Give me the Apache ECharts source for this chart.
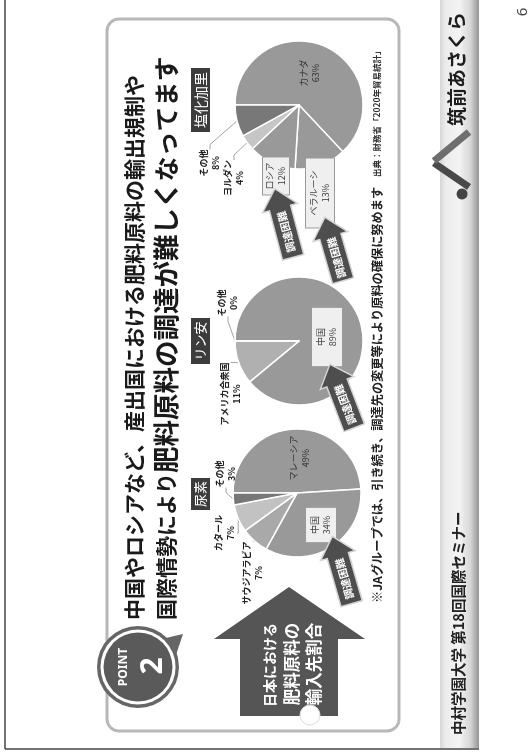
<!DOCTYPE html>
<html><head><meta charset="utf-8">
<script src="https://cdn.jsdelivr.net/npm/echarts/dist/echarts.min.js"></script>
<style>
html,body{margin:0;padding:0;width:532px;height:753px;overflow:hidden;background:#fff;}
#slide{position:absolute;left:0;top:0;width:753px;height:532px;transform-origin:0 0;transform:translate(0,753px) rotate(-90deg);}
</style></head><body><div id="slide"></div>
<script>
// ---- data ----
const pieTitles = ['尿素', 'リン安', '塩化加里'];
const ureaNames = ['マレーシア', '中国', 'サウジアラビア', 'カタール', 'その他'];
const ureaShares = [49, 34, 7, 7, 3];
const phosNames = ['中国', 'アメリカ合衆国', 'その他'];
const phosShares = [89, 11, 0];
const potashNames = ['カナダ', 'ベラルーシ', 'ロシア', 'ヨルダン', 'その他'];
const potashShares = [63, 13, 12, 4, 8];
const titleLine1 = '中国やロシアなど、産出国における肥料原料の輸出規制や';
const titleLine2a = '国際情勢により';
const titleLine2b = '肥料原料の調達が難しく';
const titleLine2c = 'なってます';
const arrowLines = ['日本における', '肥料原料の', '輸入先割合'];
const difficultyText = '調達困難';
const noteText = '※JAグループでは、引き続き、調達先の変更等により原料の確保に努めます';
const sourceText = '出典：財務省「2020年貿易統計」';
const footerText = '中村学園大学 第18回国際セミナー';
const logoText = '筑前あさくら';
const pageNo = '6';
const badgeWord = 'POINT';
const badgeNum = '2';

// ---- styles / layout ----
const CJK = '"Noto Sans CJK JP", "Noto Sans", sans-serif';
const MID = '#999999';
const ureaColors = [MID, MID, '#a9a9a9', '#c2c2c2', '#777777'];
const phosColors = [MID, '#b0b0b0', '#777777'];
const potashColors = [MID, MID, MID, '#c6c6c6', '#787878'];
const ureaKinds = ['in', 'box', 'line', 'line', 'line'];
const phosKinds = ['box', 'line', 'line'];
const potashKinds = ['in', 'boxout', 'boxout', 'line', 'line'];
const ureaPads = [0, [3, 8], 0, 0, 0];
const phosPads = [[3, 20], 0, 0];
const potashPads = [0, [2, 12], [1, 5], 0, 0];
const ureaSpots = [[295, 300], [228, 321], [180, 253], [220, 225], [279, 226]];
const phosSpots = [[416, 327], [359, 231], [450, 228]];
const potashSpots = [[680, 310], [560, 320], [577, 276], [575, 234], [590, 210]];

function buildPie(names, values, colors, kinds, pads, spots, center) {
  return {
    type: 'pie', center: center, radius: 64, startAngle: 90, clockwise: true,
    avoidLabelOverlap: false, silent: true, animation: false, z: 2,
    itemStyle: { borderColor: '#ffffff', borderWidth: 1.5 },
    label: { show: true, position: 'inside', formatter: '{b}\n{c}%', fontSize: 9, lineHeight: 12,
             color: '#333', fontFamily: CJK },
    labelLine: { show: false, length: 5, length2: 5, lineStyle: { color: '#8a8a8a', width: 0.8 } },
    labelLayout: function (p) {
      const s = spots[p.dataIndex];
      return s ? { x: s[0], y: s[1], align: 'center', verticalAlign: 'middle' } : {};
    },
    data: names.map(function (n, i) {
      const item = { name: n, value: values[i], itemStyle: { color: colors[i] } };
      const k = kinds[i];
      if (k === 'line') {
        item.label = { position: 'outside', fontWeight: 'bold', color: '#222' };
        item.labelLine = { show: true };
      } else if (k === 'boxout' || k === 'box') {
        item.label = { position: k === 'box' ? 'inside' : 'outside', backgroundColor: '#efefef',
                       borderColor: '#9a9a9a', borderWidth: 1, padding: pads[i], color: '#444' };
        item.labelLine = { show: false };
      }
      return item;
    })
  };
}

function difficultyArrow(cx, cy, deg, len) {
  const hl = 20, sw = 11, hw = 18;
  const x0 = -len / 2, x1 = len / 2 - hl, x2 = len / 2;
  return {
    type: 'group', x: cx, y: cy, rotation: deg * Math.PI / 180, z: 20,
    children: [
      { type: 'polygon', z: 20,
        shape: { points: [[x0, -sw], [x1, -sw], [x1, -hw], [x2, 0], [x1, hw], [x1, sw], [x0, sw]] },
        style: { fill: '#4e4e4e', stroke: '#d4d4d4', lineWidth: 1.5 } },
      { type: 'text', z: 21, x: (x0 + x1) / 2 + 1, y: 0,
        style: { text: difficultyText, fill: '#fff', fontSize: 10.5, fontWeight: 'bold',
                 fontFamily: CJK, align: 'center', verticalAlign: 'middle' } }
    ]
  };
}

function tag(x, w, label, fs) {
  return [
    { type: 'rect', z: 5, shape: { x: x, y: 191, width: w, height: 19 }, style: { fill: '#3c3c3c' } },
    { type: 'text', z: 6, x: x + w / 2, y: 200.5,
      style: { text: label, fill: '#fff', fontSize: fs, fontFamily: CJK, align: 'center', verticalAlign: 'middle' } }
  ];
}

const graphics = [
  // footer bar
  { type: 'rect', z: 0, shape: { x: 5, y: 440, width: 748, height: 39 },
    style: { fill: new echarts.graphic.LinearGradient(0, 0, 0, 1, [
      { offset: 0, color: '#d6d6d6' }, { offset: 0.15, color: '#ececec' }, { offset: 0.5, color: '#f3f3f3' },
      { offset: 0.78, color: '#d6d6d6' }, { offset: 1, color: '#959595' }]) } },
  // frame
  { type: 'line', z: 1, shape: { x1: 4, y1: 5, x2: 753, y2: 5 }, style: { stroke: '#444', lineWidth: 1.5 } },
  { type: 'line', z: 1, shape: { x1: 4, y1: 5, x2: 4, y2: 479 }, style: { stroke: '#444', lineWidth: 1.5 } },
  { type: 'text', z: 3, x: 18, y: 458,
    style: { text: footerText, fill: '#222', fontSize: 14.5, fontWeight: 'bold', fontFamily: CJK, verticalAlign: 'middle' } },
  // logo
  { type: 'polyline', z: 3, shape: { points: [[566, 469], [590, 434]] }, style: { stroke: '#4a4a4a', lineWidth: 7 } },
  { type: 'polyline', z: 3, shape: { points: [[592, 434], [621, 469]] }, style: { stroke: '#6e6e6e', lineWidth: 7 } },
  { type: 'circle', z: 3, shape: { cx: 559, cy: 462, r: 5.5 }, style: { fill: '#444' } },
  { type: 'text', z: 3, x: 627, y: 457,
    style: { text: logoText, fill: '#1e1e1e', fontSize: 19, fontWeight: 'bold', fontFamily: CJK, verticalAlign: 'middle' } },
  { type: 'text', z: 3, x: 741, y: 523,
    style: { text: pageNo, fill: '#444', fontSize: 15, fontFamily: '"Noto Sans", sans-serif', align: 'center', verticalAlign: 'middle' } },
  // card
  { type: 'rect', z: 1, shape: { x: 22, y: 107, width: 712, height: 292, r: 12 },
    style: { fill: '#fff', stroke: '#b8b8b8', lineWidth: 3 } },
  // titles
  { type: 'text', z: 5, x: 133, y: 134,
    style: { text: titleLine1, fill: '#1a1a1a', fontSize: 21, fontWeight: 'bold', fontFamily: CJK, verticalAlign: 'middle' } },
  { type: 'text', z: 5, x: 133, y: 166,
    style: { text: '{a|' + titleLine2a + '}{b|' + titleLine2b + '}{c|' + titleLine2c + '}', verticalAlign: 'middle',
      rich: { a: { fontSize: 21, fontWeight: 'bold', fontFamily: CJK, fill: '#1a1a1a', color: '#1a1a1a' },
              b: { fontSize: 26.5, fontWeight: 'bold', fontFamily: CJK, fill: '#1a1a1a', color: '#1a1a1a' },
              c: { fontSize: 25, fontWeight: 'bold', fontFamily: CJK, fill: '#1a1a1a', color: '#1a1a1a' } } } },
  // badge
  { type: 'polygon', z: 6, shape: { points: [[114.4, 163.2], [119, 183], [95.2, 174.9]] }, style: { fill: '#666' } },
  { type: 'circle', z: 6, shape: { cx: 86, cy: 138, r: 41 }, style: { fill: '#666' } },
  { type: 'circle', z: 7, shape: { cx: 86, cy: 138, r: 37.5 }, style: { fill: '#fff' } },
  { type: 'circle', z: 8, shape: { cx: 86, cy: 138, r: 34.5 }, style: { fill: '#5a5a5a' } },
  { type: 'text', z: 9, x: 86, y: 124,
    style: { text: badgeWord, fill: '#fff', fontSize: 12, fontWeight: 'bold', fontFamily: '"Noto Sans", sans-serif', align: 'center', verticalAlign: 'middle' } },
  { type: 'text', z: 9, x: 87, y: 153,
    style: { text: badgeNum, fill: '#fff', fontSize: 30, fontWeight: 'bold', fontFamily: '"Noto Sans", sans-serif', align: 'center', verticalAlign: 'middle' } },
  // big arrow
  { type: 'polygon', z: 5, shape: { points: [[37, 240], [114, 240], [114, 214], [166, 289], [114, 365], [114, 338], [37, 338]] },
    style: { fill: '#555' } },
  { type: 'text', z: 6, x: 88, y: 270, style: { text: arrowLines[0], fill: '#fff', fontSize: 14, fontWeight: 'bold', fontFamily: CJK, align: 'center', verticalAlign: 'middle' } },
  { type: 'text', z: 6, x: 89, y: 292, style: { text: arrowLines[1], fill: '#fff', fontSize: 16.5, fontWeight: 'bold', fontFamily: CJK, align: 'center', verticalAlign: 'middle' } },
  { type: 'text', z: 6, x: 89, y: 314, style: { text: arrowLines[2], fill: '#fff', fontSize: 16.5, fontWeight: 'bold', fontFamily: CJK, align: 'center', verticalAlign: 'middle' } },
  { type: 'circle', z: 7, shape: { cx: 38, cy: 310, r: 10 }, style: { fill: '#fff', stroke: '#dddddd', lineWidth: 1 } },
  // note & source
  { type: 'text', z: 5, x: 150, y: 377,
    style: { text: noteText, fill: '#222', fontSize: 12.2, fontWeight: 'bold', fontFamily: CJK, verticalAlign: 'middle' } },
  { type: 'text', z: 5, x: 576, y: 377,
    style: { text: sourceText, fill: '#333', fontSize: 8.5, fontWeight: 'bold', fontFamily: CJK, verticalAlign: 'middle' } }
]
.concat(tag(243, 32, pieTitles[0], 13))
.concat(tag(389, 46, pieTitles[1], 13))
.concat(tag(621, 64, pieTitles[2], 14))
.concat([
  difficultyArrow(183, 342, 16, 70),
  difficultyArrow(357, 342, 21, 68),
  difficultyArrow(530, 284, 15, 71),
  difficultyArrow(504, 334, 16, 66)
]);

const chart = echarts.init(document.getElementById('slide'), null, { renderer: 'canvas', width: 753, height: 532 });
chart.setOption({
  animation: false,
  backgroundColor: '#fff',
  textStyle: { fontFamily: CJK },
  graphic: { elements: graphics },
  series: [
    buildPie(ureaNames, ureaShares, ureaColors, ureaKinds, ureaPads, ureaSpots, [260, 297]),
    buildPie(phosNames, phosShares, phosColors, phosKinds, phosPads, phosSpots, [412, 299]),
    buildPie(potashNames, potashShares, potashColors, potashKinds, potashPads, potashSpots, [648, 299])
  ]
});
</script></body></html>
